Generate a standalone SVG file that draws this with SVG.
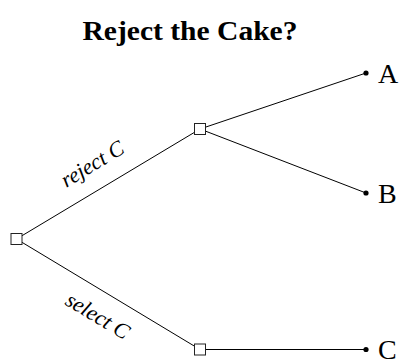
<svg xmlns="http://www.w3.org/2000/svg" width="401" height="360" viewBox="0 0 401 360">
<style>
.edge{stroke:#000;stroke-width:1;fill:none}
.box{fill:#fff;stroke:#222;stroke-width:1}
.dot{fill:#000}
.title{font-family:"Liberation Serif",serif;font-weight:bold;font-size:28px;text-anchor:middle}
.leaf{font-family:"Liberation Serif",serif;font-size:28px}
.elab{font-family:"Liberation Serif",serif;font-style:italic;font-size:22px;text-anchor:middle}
</style>
<rect width="401" height="360" fill="#fff"/>
<text class="title" x="190" y="40" textLength="215" lengthAdjust="spacingAndGlyphs">Reject the Cake?</text>
<g id="connectors">
<line class="edge" x1="16.5" y1="239" x2="200" y2="129"/>
<line class="edge" x1="16.5" y1="239" x2="200" y2="349.5"/>
<line class="edge" x1="200" y1="129" x2="366" y2="73"/>
<line class="edge" x1="200" y1="129" x2="366" y2="193"/>
<line class="edge" x1="200" y1="349.5" x2="366" y2="349.5"/>
<text class="elab" transform="translate(96,170) rotate(-31)">reject C</text>
<text class="elab" transform="translate(94,322) rotate(31)">select C</text>
</g>
<g id="root"><rect class="box" x="11" y="233.5" width="11" height="11"/></g>
<g id="n_reject"><rect class="box" x="194.5" y="123.5" width="11" height="11"/></g>
<g id="n_select"><rect class="box" x="194.5" y="344" width="11" height="11"/></g>
<g id="leaf_A"><circle class="dot" cx="366" cy="73" r="2.6"/><text class="leaf" x="378" y="83">A</text></g>
<g id="leaf_B"><circle class="dot" cx="366" cy="193" r="2.6"/><text class="leaf" x="378" y="203">B</text></g>
<g id="leaf_C"><circle class="dot" cx="366" cy="349.5" r="2.6"/><text class="leaf" x="378" y="359">C</text></g>
</svg>
